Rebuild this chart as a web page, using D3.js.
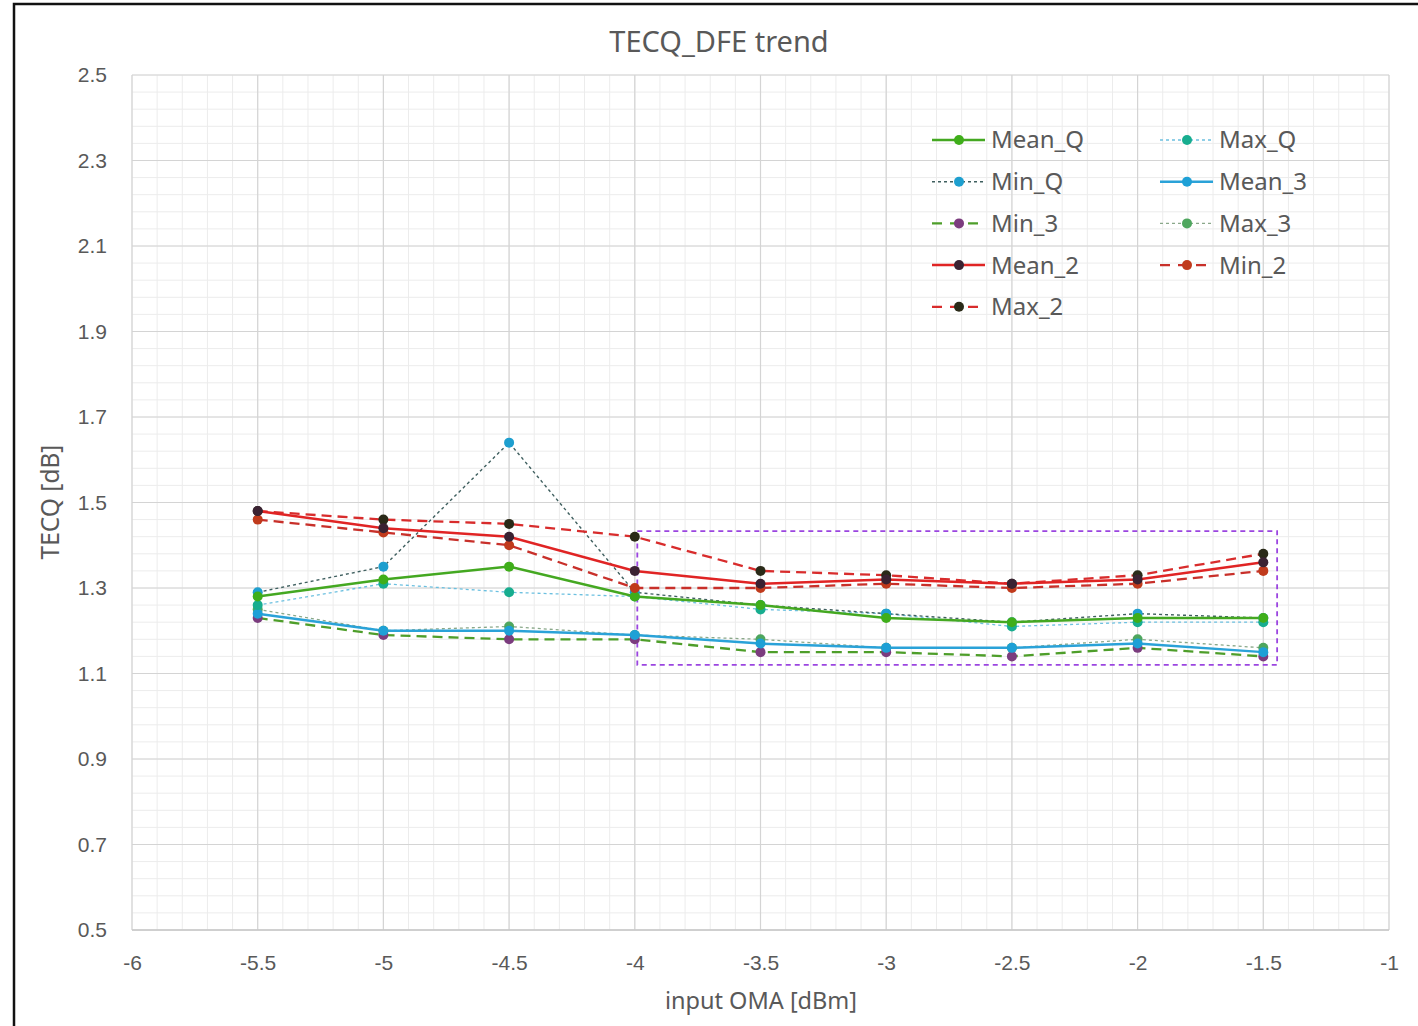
<!DOCTYPE html>
<html><head><meta charset="utf-8">
<script src="https://cdn.jsdelivr.net/npm/d3@7"></script>
<style>body{margin:0;background:#fff;} svg{display:block;}</style>
</head><body>
<svg id="c" width="1418" height="1026"></svg>
<script>
const xs = [-5.5, -5, -4.5, -4, -3.5, -3, -2.5, -2, -1.5];
const meanQ = [1.28, 1.32, 1.35, 1.28, 1.26, 1.23, 1.22, 1.23, 1.23];
const maxQ  = [1.26, 1.31, 1.29, 1.28, 1.25, 1.24, 1.21, 1.22, 1.22];
const minQ  = [1.29, 1.35, 1.64, 1.29, 1.26, 1.24, 1.22, 1.24, 1.23];
const mean3 = [1.24, 1.20, 1.20, 1.19, 1.17, 1.16, 1.16, 1.17, 1.15];
const min3  = [1.23, 1.19, 1.18, 1.18, 1.15, 1.15, 1.14, 1.16, 1.14];
const max3  = [1.25, 1.20, 1.21, 1.19, 1.18, 1.16, 1.16, 1.18, 1.16];
const mean2 = [1.48, 1.44, 1.42, 1.34, 1.31, 1.32, 1.31, 1.32, 1.36];
const min2  = [1.46, 1.43, 1.40, 1.30, 1.30, 1.31, 1.30, 1.31, 1.34];
const max2  = [1.48, 1.46, 1.45, 1.42, 1.34, 1.33, 1.31, 1.33, 1.38];
const xTicks = [-6, -5.5, -5, -4.5, -4, -3.5, -3, -2.5, -2, -1.5, -1];
const yTicks = [0.5, 0.7, 0.9, 1.1, 1.3, 1.5, 1.7, 1.9, 2.1, 2.3, 2.5];
const highlightBox = {x0: -3.99, x1: -1.445, y0: 1.12, y1: 1.433};

const series = [
  {name:"Mean_Q", data:meanQ, line:"#44a821", dash:null, w:2.5, mk:"#3fae1a"},
  {name:"Max_Q",  data:maxQ,  line:"#6cc0e0", dash:"3,3", w:1.3, mk:"#17ad8f"},
  {name:"Min_Q",  data:minQ,  line:"#3f5f5f", dash:"3,3", w:1.4, mk:"#1e9fcf"},
  {name:"Mean_3", data:mean3, line:"#2aa2d8", dash:null, w:2.5, mk:"#1ea0d6"},
  {name:"Min_3",  data:min3,  line:"#4e9e2a", dash:"10,6", w:2.3, mk:"#7b3c7e"},
  {name:"Max_3",  data:max3,  line:"#8aa88a", dash:"3,3", w:1.3, mk:"#4ea65e"},
  {name:"Mean_2", data:mean2, line:"#e02424", dash:null, w:2.5, mk:"#3a2232"},
  {name:"Min_2",  data:min2,  line:"#c8302a", dash:"10,6", w:2.3, mk:"#c03a1c"},
  {name:"Max_2",  data:max2,  line:"#d82c2c", dash:"10,6", w:2.3, mk:"#2a2a18"}
];
const legendOrder = [
  ["Mean_Q","Max_Q"],["Min_Q","Mean_3"],["Min_3","Max_3"],["Mean_2","Min_2"],["Max_2",null]
];

const svg = d3.select("#c");
const L=132, R=1389, T=75, B=930;
const x = d3.scaleLinear().domain([-6,-1]).range([L,R]);
const y = d3.scaleLinear().domain([0.5,2.5]).range([B,T]);

// outer frame
svg.append("rect").attr("x",14).attr("y",4).attr("width",1420).attr("height",1040)
  .attr("fill","#fff").attr("stroke","#111").attr("stroke-width",2.5);

// minor grid
const g = svg.append("g");
const xMinor = d3.range(0,51).map(i=>-6+i*0.1);
const yMinor = d3.range(0,51).map(i=>0.5+i*0.04);
g.selectAll(".xm").data(xMinor).join("line")
  .attr("x1",d=>x(d)).attr("x2",d=>x(d)).attr("y1",T).attr("y2",B)
  .attr("stroke","#ececec").attr("stroke-width",1);
g.selectAll(".ym").data(yMinor).join("line")
  .attr("y1",d=>y(d)).attr("y2",d=>y(d)).attr("x1",L).attr("x2",R)
  .attr("stroke","#ececec").attr("stroke-width",1);
// major grid
g.selectAll(".xM").data(xTicks).join("line")
  .attr("x1",d=>x(d)).attr("x2",d=>x(d)).attr("y1",T).attr("y2",B)
  .attr("stroke","#d4d4d4").attr("stroke-width",1.2);
g.selectAll(".yM").data(yTicks).join("line")
  .attr("y1",d=>y(d)).attr("y2",d=>y(d)).attr("x1",L).attr("x2",R)
  .attr("stroke","#d4d4d4").attr("stroke-width",1.2);

// axes (labels only)
const xAxis = svg.append("g").attr("transform",`translate(0,${B})`)
  .call(d3.axisBottom(x).tickValues(xTicks).tickSize(0).tickPadding(25).tickFormat(d=>String(d)));
const yAxis = svg.append("g").attr("transform",`translate(${L},0)`)
  .call(d3.axisLeft(y).tickValues(yTicks).tickSize(0).tickPadding(25).tickFormat(d3.format(".1f")));
[xAxis,yAxis].forEach(a=>{
  a.select(".domain").remove();
  a.selectAll("text").attr("font-family","'Liberation Sans', Arial, sans-serif")
   .attr("font-size",21).attr("fill","#595959");
});
svg.append("line").attr("x1",L).attr("x2",R).attr("y1",B).attr("y2",B).attr("stroke","#c8c8c8").attr("stroke-width",1.5);

// highlight box
svg.append("rect")
  .attr("x",x(highlightBox.x0)).attr("y",y(highlightBox.y1))
  .attr("width",x(highlightBox.x1)-x(highlightBox.x0))
  .attr("height",y(highlightBox.y0)-y(highlightBox.y1))
  .attr("fill","none").attr("stroke","#9b45e0").attr("stroke-width",1.8).attr("stroke-dasharray","5,4");

// series
const line = d3.line().x((d,i)=>x(xs[i])).y(d=>y(d));
const drawOrder = ["Max_3","Min_3","Mean_3","Max_Q","Min_Q","Mean_Q","Min_2","Max_2","Mean_2"];
drawOrder.forEach(n=>{
  const s = series.find(q=>q.name===n);
  svg.append("path").datum(s.data).attr("d",line).attr("fill","none")
    .attr("stroke",s.line).attr("stroke-width",s.w)
    .attr("stroke-dasharray",s.dash);
});
drawOrder.forEach(n=>{
  const s = series.find(q=>q.name===n);
  svg.append("g").selectAll("circle").data(s.data).join("circle")
    .attr("cx",(d,i)=>x(xs[i])).attr("cy",d=>y(d)).attr("r",5).attr("fill",s.mk);
});

// legend
const lg = svg.append("g");
const colX = [932, 1160], rowY0 = 140, rowDY = 41.7;
legendOrder.forEach((row,ri)=>{
  row.forEach((n,ci)=>{
    if(!n) return;
    const s = series.find(q=>q.name===n);
    const yy = rowY0 + ri*rowDY, x0 = colX[ci];
    lg.append("line").attr("x1",x0).attr("x2",x0+53).attr("y1",yy).attr("y2",yy)
      .attr("stroke",s.line).attr("stroke-width",s.w)
      .attr("stroke-dasharray",s.dash ? (s.dash==="10,6"?"10,8":"3,3") : null);
    lg.append("circle").attr("cx",x0+27).attr("cy",yy).attr("r",5).attr("fill",s.mk);
    lg.append("text").attr("x",x0+59).attr("y",yy).attr("dy","0.35em")
      .attr("font-family","'Noto Sans', sans-serif").attr("font-size",24).attr("fill","#595959").text(n);
  });
});

// title & axis titles
svg.append("text").attr("x",719).attr("y",42).attr("dy","0.35em").attr("text-anchor","middle")
  .attr("font-family","'Noto Sans', sans-serif").attr("font-size",29).attr("fill","#595959").text("TECQ_DFE trend");
svg.append("text").attr("x",761).attr("y",1001).attr("dy","0.35em").attr("text-anchor","middle")
  .attr("font-family","'Noto Sans', sans-serif").attr("font-size",23.5).attr("fill","#595959").text("input OMA [dBm]");
svg.append("text").attr("transform","translate(50,502) rotate(-90)").attr("dy","0.35em").attr("text-anchor","middle")
  .attr("font-family","'Noto Sans', sans-serif").attr("font-size",24.5).attr("fill","#595959").text("TECQ [dB]");
</script>
</body></html>
